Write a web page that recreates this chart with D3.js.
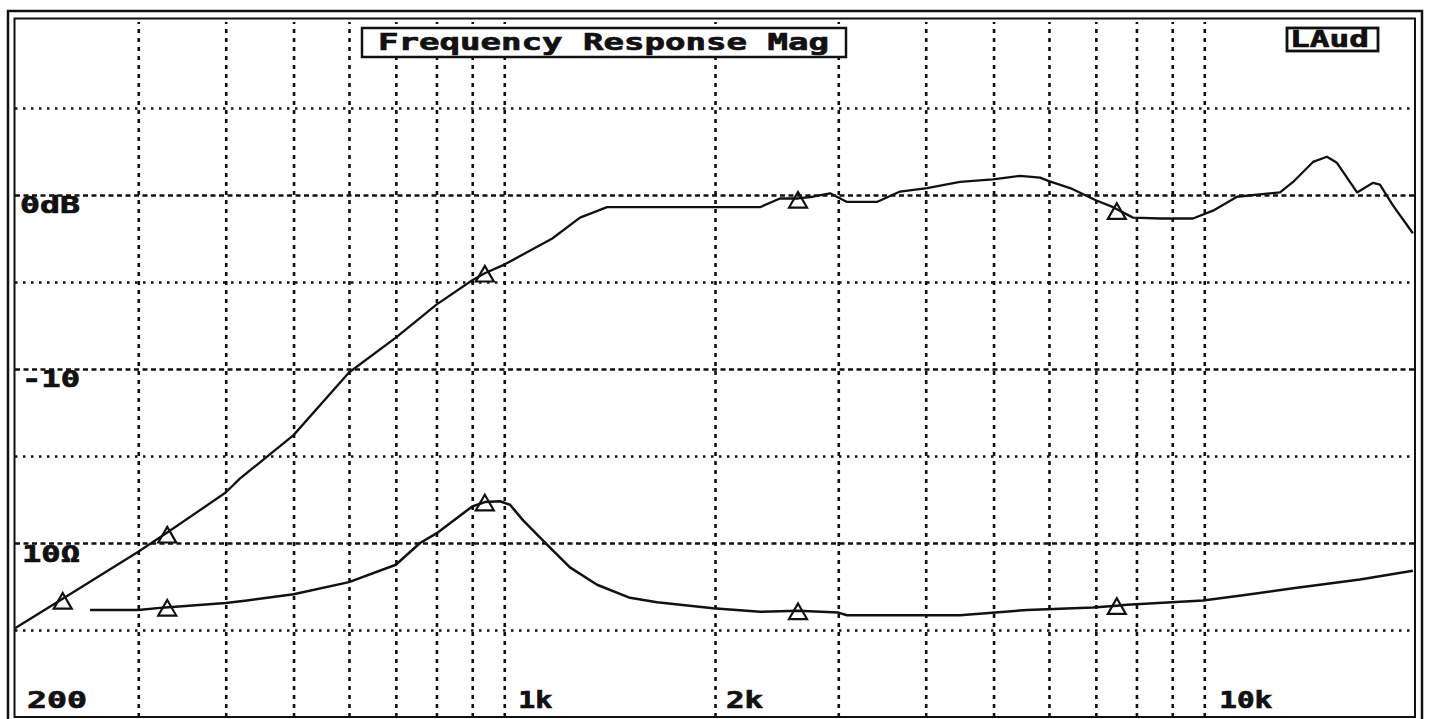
<!DOCTYPE html>
<html>
<head>
<meta charset="utf-8">
<script src="https://cdn.jsdelivr.net/npm/d3@7"></script>
<style>
  body { margin: 0; background: #fff; }
  text { font-family: 'DejaVu Sans Mono', monospace; font-weight: bold; fill: #111; stroke: #111; stroke-width: 0.7px; }
</style>
</head>
<body>
<div id="chart"></div>
<script>
// SPL magnitude curve (Hz, dB)
const splFreq = [200, 234, 300, 330, 400, 419, 500, 600, 700, 800, 900, 938, 1000, 1171, 1283, 1402,
  2319, 2476, 2628, 2760, 2920, 3088, 3406, 3676, 4018, 4477, 4990, 5456, 5826, 6000, 6432, 7000,
  7408, 7910, 8647, 9636, 10290, 11138, 12830, 13393, 14300, 14970, 15470, 16530, 17420, 17820, 18600, 19860];
const splDb = [-24.9, -23.2, -20.5, -19.4, -17.1, -16.3, -13.8, -10.2, -8.2, -6.3, -4.9, -4.5, -4.0, -2.5, -1.3, -0.7,
  -0.7, -0.2, -0.2, -0.1, 0.1, -0.4, -0.4, 0.2, 0.4, 0.75, 0.9, 1.1, 1.0, 0.8, 0.4, -0.3,
  -0.7, -1.3, -1.35, -1.35, -0.9, -0.1, 0.15, 0.75, 1.9, 2.2, 1.85, 0.15, 0.7, 0.6, -0.6, -2.2];

// impedance curve (Hz, ohm)
const impFreq = [256, 300, 328, 400, 429, 500, 600, 700, 758, 800, 900, 938, 986, 1019, 1064, 1151,
  1241, 1357, 1512, 1653, 1987, 2319, 2628, 3000, 3088, 4477, 5582, 6934, 7500, 7756, 9958, 11360,
  13393, 16690, 19860];
const impOhm = [6.15, 6.15, 6.3, 6.55, 6.7, 7.05, 7.75, 8.75, 10.0, 10.55, 12.1, 12.35, 12.4, 12.2, 11.3, 9.9,
  8.6, 7.6, 6.85, 6.6, 6.25, 6.05, 6.1, 6.0, 5.85, 5.85, 6.15, 6.3, 6.4, 6.45, 6.7, 7.0,
  7.4, 7.9, 8.4];

// cursor markers
const splMarkFreq = [234, 330, 938, 2628, 7500];
const splMarkDb = [-23.3, -19.5, -4.5, -0.25, -0.9];
const impMarkFreq = [330, 938, 2628, 7500];
const impMarkOhm = [6.3, 12.35, 6.1, 6.4];

// grid and tick labels
const gridFreqs = [300, 400, 500, 600, 700, 800, 900, 1000, 2000, 3000, 4000, 5000, 6000, 7000, 8000, 9000, 10000];
const gridDb = [5, 0, -5, -10, -15, -20, -25];
const xTickValues = [200, 1000, 2000, 10000];
const xTickLabels = ['200', '1k', '2k', '10k'];
const dbTickValues = [0, -10];
const dbTickLabels = ['0dB', '-10'];
const ohmTickValues = [10];
const ohmTickLabels = ['10Ω'];
const title = 'Frequency Response Mag';
const badge = 'LAud';

const dimensions = {
  width: 1431,
  height: 719,
  left: 15,
  right: 1415,
  top: 21,
  bottom: 717,
};

const xScale = d3.scaleLog().domain([200, 20000]).range([dimensions.left, dimensions.right]);
const yScale = d3.scaleLinear().domain([-30, 10]).range([dimensions.bottom, dimensions.top]);
const zScale = d3.scaleLinear().domain([0, 40]).range([dimensions.bottom, dimensions.top]);

const svg = d3.select('#chart')
  .append('svg')
  .attr('width', dimensions.width)
  .attr('height', dimensions.height);

svg.append('rect').attr('width', dimensions.width).attr('height', dimensions.height).attr('fill', '#fff');

// grid
const xGrid = svg.append('g')
  .attr('transform', `translate(0, ${dimensions.bottom})`)
  .call(d3.axisBottom(xScale).tickValues(gridFreqs).tickFormat('')
    .tickSize(-(dimensions.bottom - 22)).tickSizeOuter(0));
xGrid.select('.domain').remove();
xGrid.selectAll('.tick line')
  .attr('stroke', '#111').attr('stroke-width', 2.6).attr('stroke-dasharray', '4,5');

const yGrid = svg.append('g')
  .attr('transform', `translate(${dimensions.left}, 0)`)
  .call(d3.axisLeft(yScale).tickValues(gridDb).tickFormat('')
    .tickSize(-(dimensions.right - dimensions.left)).tickSizeOuter(0));
yGrid.select('.domain').remove();
yGrid.selectAll('.tick line')
  .attr('stroke', '#111')
  .attr('stroke-width', 2.4)
  .attr('stroke-dasharray', (d) => (d % 10 === 0 ? '5,3.5' : '2.5,5.5'));

// curves
const splLine = d3.line().x((d) => xScale(d[0])).y((d) => yScale(d[1]));
const impLine = d3.line().x((d) => xScale(d[0])).y((d) => zScale(d[1]));

svg.append('path')
  .datum(d3.zip(splFreq, splDb))
  .attr('d', splLine)
  .attr('fill', 'none').attr('stroke', '#111').attr('stroke-width', 2.3).attr('stroke-linejoin', 'round');

svg.append('path')
  .datum(d3.zip(impFreq, impOhm))
  .attr('d', impLine)
  .attr('fill', 'none').attr('stroke', '#111').attr('stroke-width', 2.5).attr('stroke-linejoin', 'round');

// markers
const tri = d3.symbol().type(d3.symbolTriangle).size(140);
svg.selectAll('.spl-mark')
  .data(d3.zip(splMarkFreq, splMarkDb))
  .join('path')
  .attr('class', 'spl-mark')
  .attr('d', tri)
  .attr('transform', (d) => `translate(${xScale(d[0])}, ${yScale(d[1]) + 3})`)
  .attr('fill', 'none').attr('stroke', '#111').attr('stroke-width', 2.2);

svg.selectAll('.imp-mark')
  .data(d3.zip(impMarkFreq, impMarkOhm))
  .join('path')
  .attr('class', 'imp-mark')
  .attr('d', tri)
  .attr('transform', (d) => `translate(${xScale(d[0])}, ${zScale(d[1]) + 3})`)
  .attr('fill', 'none').attr('stroke', '#111').attr('stroke-width', 2.2);

// tick labels
const xLabelOffset = [12, 14, 11, 15];
const xLabelLen = [60, 34, 37, 53];
svg.selectAll('.x-label')
  .data(xTickValues)
  .join('text')
  .attr('class', 'x-label')
  .attr('x', (d, i) => xScale(d) + xLabelOffset[i])
  .attr('y', 708)
  .attr('font-size', 23)
  .attr('textLength', (d, i) => xLabelLen[i])
  .attr('lengthAdjust', 'spacingAndGlyphs')
  .text((d, i) => xTickLabels[i]);

svg.selectAll('.db-label')
  .data(dbTickValues)
  .join('text')
  .attr('class', 'db-label')
  .attr('x', (d, i) => (i === 0 ? 20 : 22))
  .attr('y', (d) => yScale(d) + 18)
  .attr('font-size', 23)
  .attr('textLength', (d, i) => (i === 0 ? 60 : 58))
  .attr('lengthAdjust', 'spacingAndGlyphs')
  .text((d, i) => dbTickLabels[i]);

svg.selectAll('.ohm-label')
  .data(ohmTickValues)
  .join('text')
  .attr('class', 'ohm-label')
  .attr('x', 22)
  .attr('y', (d) => zScale(d) + 19)
  .attr('font-size', 23)
  .attr('textLength', 58)
  .attr('lengthAdjust', 'spacingAndGlyphs')
  .text((d, i) => ohmTickLabels[i]);

// title boxes
svg.append('rect')
  .attr('x', 362).attr('y', 28).attr('width', 484).attr('height', 29)
  .attr('fill', '#fff').attr('stroke', '#111').attr('stroke-width', 2.5);
svg.append('text')
  .attr('x', 378).attr('y', 50)
  .attr('font-size', 23)
  .attr('textLength', 451)
  .attr('lengthAdjust', 'spacingAndGlyphs')
  .text(title);

svg.append('rect')
  .attr('x', 1287).attr('y', 28).attr('width', 91).attr('height', 23)
  .attr('fill', '#fff').attr('stroke', '#111').attr('stroke-width', 2.8);
svg.append('text')
  .attr('x', 1290).attr('y', 47)
  .attr('font-size', 23)
  .attr('textLength', 79)
  .attr('lengthAdjust', 'spacingAndGlyphs')
  .text(badge);

// double frame
svg.append('rect')
  .attr('x', 8).attr('y', 11).attr('width', 1414).attr('height', 720)
  .attr('fill', 'none').attr('stroke', '#111').attr('stroke-width', 2.5);
svg.append('rect')
  .attr('x', 14.5).attr('y', 18.5).attr('width', 1400.5).attr('height', 698.5)
  .attr('fill', 'none').attr('stroke', '#111').attr('stroke-width', 2);
</script>
</body>
</html>
